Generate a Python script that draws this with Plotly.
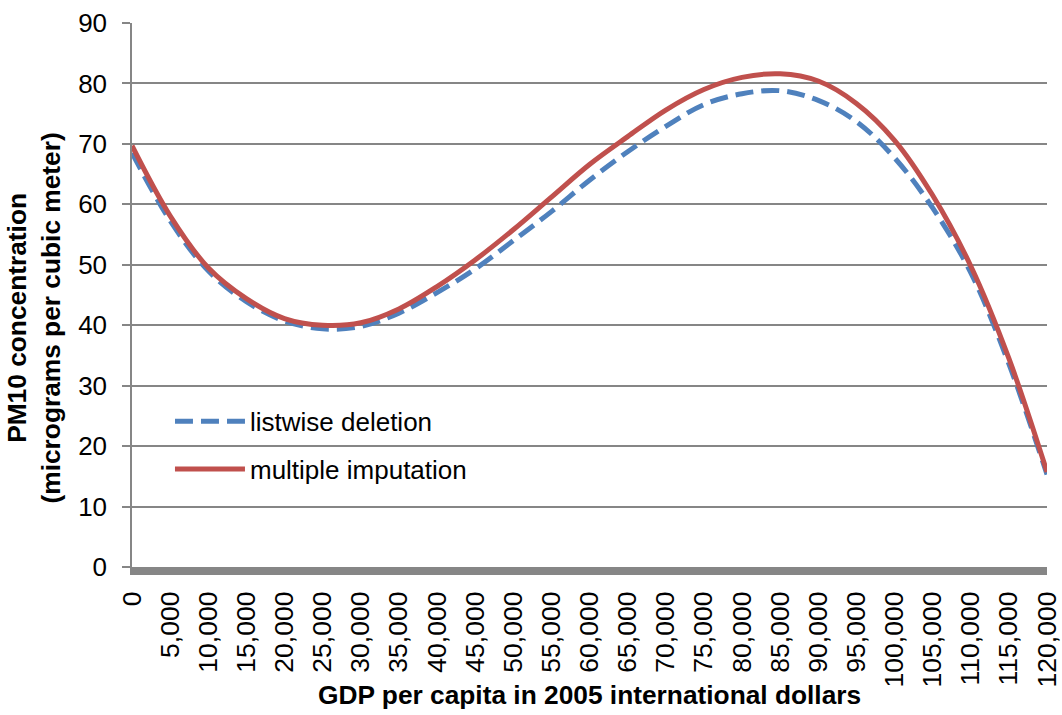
import plotly.graph_objects as go

gdp = [0, 5000, 10000, 15000, 20000, 25000, 30000, 35000, 40000, 45000, 50000,
       55000, 60000, 65000, 70000, 75000, 80000, 85000, 90000, 95000, 100000,
       105000, 110000, 115000, 120000]

listwise_deletion = [68.5, 57.3, 49.0, 43.9, 40.7, 39.4, 39.8, 42.0, 45.4, 49.3, 54.0,
                     58.8, 64.0, 68.7, 72.9, 76.5, 78.3, 78.8, 77.2, 73.7, 67.7,
                     59.4, 48.7, 33.6, 15.3]

multiple_imputation = [69.7, 58.1, 49.5, 44.4, 41.1, 40.0, 40.4, 42.7, 46.4, 50.8, 55.8,
                       61.2, 66.6, 71.2, 75.6, 79.0, 81.0, 81.6, 80.4, 76.7, 70.6,
                       61.5, 49.8, 34.5, 15.7]

x_ticks = list(range(0, 120001, 5000))
y_ticks = list(range(0, 91, 10))

FONT = "Liberation Sans, Arial, sans-serif"
GRID = "#868686"

fig = go.Figure()
fig.add_trace(go.Scatter(
    x=gdp, y=listwise_deletion, mode="lines", name="listwise deletion",
    line=dict(color="#4F81BD", width=5, dash="18px,8px", shape="spline", smoothing=1.0),
    legendgroup="a"))
fig.add_trace(go.Scatter(
    x=gdp, y=multiple_imputation, mode="lines", name="multiple imputation",
    line=dict(color="#C0504D", width=5, shape="spline", smoothing=1.0),
    legendgroup="b"))

fig.update_layout(
    width=1062, height=715,
    margin=dict(l=132, r=15, t=23, b=148, autoexpand=False),
    paper_bgcolor="white", plot_bgcolor="white",
    font=dict(family=FONT, size=26, color="black"),
    showlegend=True,
    legend=dict(x=0.0415, y=0.311, xanchor="left", yanchor="top",
                bgcolor="rgba(0,0,0,0)", font=dict(size=26, color="black"),
                traceorder="grouped", tracegroupgap=11, itemwidth=70),
    annotations=[
        dict(text="<b>PM10 concentration<br>(micrograms per cubic meter)</b>",
             xref="paper", yref="paper", x=-0.1075, y=0.458, xanchor="center", yanchor="middle",
             textangle=-90, showarrow=False, font=dict(size=26.3, family=FONT, color="black")),
        dict(text="<b>GDP per capita in 2005 international dollars</b>",
             xref="paper", yref="paper", x=0.5, y=-0.235, xanchor="center", yanchor="middle",
             showarrow=False, font=dict(size=26.3, family=FONT, color="black")),
    ],
)

fig.update_xaxes(range=[0, 120000], tickvals=x_ticks, tickformat=",", tickangle=-90,
                 ticks="", showgrid=False, zeroline=False, automargin=False,
                 showline=True, linewidth=8, linecolor=GRID,
                 tickfont=dict(size=26.5, color="black"), ticklabelstandoff=6)
fig.update_yaxes(range=[0, 90], tickvals=y_ticks, ticks="outside", ticklen=8,
                 tickwidth=1.5, tickcolor=GRID, showgrid=True, gridcolor=GRID, gridwidth=1.5,
                 zeroline=False, showline=True, linewidth=1.5, linecolor=GRID, automargin=False,
                 tickfont=dict(size=26, color="black"), ticklabelstandoff=10)

fig.write_html("out.html", config={"displayModeBar": False},
               post_script="document.body.style.margin='0';")
